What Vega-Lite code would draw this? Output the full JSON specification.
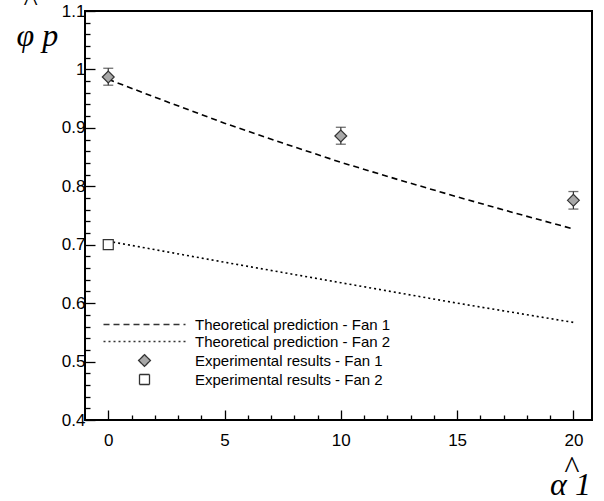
{
  "$schema": "https://vega.github.io/schema/vega-lite/v6.json",
  "width": 507,
  "height": 409,
  "autosize": "none",
  "padding": {"left": 85, "top": 11, "right": 12, "bottom": 81},
  "background": "white",
  "title": {
    "text": "^",
    "anchor": "start",
    "orient": "top",
    "frame": "group",
    "font": "Liberation Serif",
    "fontStyle": "italic",
    "fontWeight": "normal",
    "fontSize": 30,
    "color": "#000",
    "baseline": "top",
    "offset": -15,
    "dx": -62
  },
  "config": {
    "view": {"stroke": "#000", "strokeWidth": 2},
    "axis": {
      "domain": false,
      "grid": false,
      "tickColor": "#000",
      "tickWidth": 1.3,
      "labelFont": "Liberation Sans",
      "labelFontSize": 17,
      "labelColor": "#000",
      "titleFont": "Liberation Serif",
      "titleFontStyle": "italic",
      "titleFontWeight": "normal",
      "titleFontSize": 32,
      "titleColor": "#000",
      "titleLineHeight": 14
    },
    "legend": {
      "labelFont": "Liberation Sans",
      "labelFontSize": 15,
      "labelColor": "#000",
      "labelLimit": 0
    }
  },
  "datasets": {
    "theory": [
      {"series": "Theoretical prediction - Fan 1", "x": 0, "y": 0.983},
      {"series": "Theoretical prediction - Fan 1", "x": 2.5, "y": 0.945},
      {"series": "Theoretical prediction - Fan 1", "x": 5, "y": 0.908},
      {"series": "Theoretical prediction - Fan 1", "x": 7.5, "y": 0.874},
      {"series": "Theoretical prediction - Fan 1", "x": 10, "y": 0.841},
      {"series": "Theoretical prediction - Fan 1", "x": 12.5, "y": 0.811},
      {"series": "Theoretical prediction - Fan 1", "x": 15, "y": 0.782},
      {"series": "Theoretical prediction - Fan 1", "x": 17.5, "y": 0.754},
      {"series": "Theoretical prediction - Fan 1", "x": 20, "y": 0.727},
      {"series": "Theoretical prediction - Fan 2", "x": 0, "y": 0.706},
      {"series": "Theoretical prediction - Fan 2", "x": 5, "y": 0.670},
      {"series": "Theoretical prediction - Fan 2", "x": 10, "y": 0.635},
      {"series": "Theoretical prediction - Fan 2", "x": 15, "y": 0.600},
      {"series": "Theoretical prediction - Fan 2", "x": 20, "y": 0.567}
    ],
    "exp": [
      {"series": "Experimental results - Fan 1", "x": 0, "y": 0.987},
      {"series": "Experimental results - Fan 1", "x": 10, "y": 0.886},
      {"series": "Experimental results - Fan 1", "x": 20, "y": 0.776},
      {"series": "Experimental results - Fan 2", "x": 0, "y": 0.700}
    ],
    "errs": [
      {"x": 0, "y": 0.973, "y2": 1.002},
      {"x": 10, "y": 0.872, "y2": 0.901},
      {"x": 20, "y": 0.761, "y2": 0.791}
    ],
    "caps": [
      {"x": 0, "y": 0.973},
      {"x": 0, "y": 1.002},
      {"x": 10, "y": 0.872},
      {"x": 10, "y": 0.901},
      {"x": 20, "y": 0.761},
      {"x": 20, "y": 0.791}
    ]
  },
  "encoding": {
    "x": {
      "field": "x",
      "type": "quantitative",
      "scale": {"domain": [-1, 20.8], "nice": false, "zero": false},
      "axis": {
        "values": [0,1,2,3,4,5,6,7,8,9,10,11,12,13,14,15,16,17,18,19,20],
        "labelExpr": "datum.value % 5 === 0 ? datum.label : ''",
        "tickSize": {"condition": {"test": "datum.value % 5 === 0", "value": -10}, "value": -5},
        "labelPadding": 22,
        "title": ["^", "α\u00a01"],
        "titleAlign": "center",
        "titleBaseline": "top",
        "titleAngle": 0,
        "titleX": 485,
        "titleY": 32,
        "titleLineHeight": 17
      }
    },
    "y": {
      "field": "y",
      "type": "quantitative",
      "scale": {"domain": [0.4, 1.1], "nice": false, "zero": false},
      "axis": {
        "values": [0.4,0.42,0.44,0.46,0.48,0.5,0.52,0.54,0.56,0.58,0.6,0.62,0.64,0.66,0.68,0.7,0.72,0.74,0.76,0.78,0.8,0.82,0.84,0.86,0.88,0.9,0.92,0.94,0.96,0.98,1.0,1.02,1.04,1.06,1.08,1.1],
        "labelExpr": "abs(datum.value*10 - round(datum.value*10)) < 0.000001 ? ['', '', '', '', '0.4', '0.5', '0.6', '0.7', '0.8', '0.9', '1', '1.1'][round(datum.value*10)] : ''",
        "tickSize": {"condition": {"test": "abs(datum.value*10 - round(datum.value*10)) < 0.000001", "value": -10}, "value": -5},
        "labelPadding": 10,
        "title": "φ\u00a0p",
        "titleAlign": "left",
        "titleBaseline": "top",
        "titleAngle": 0,
        "titleX": -69,
        "titleY": 9
      }
    }
  },
  "layer": [
    {
      "data": {"name": "theory"},
      "mark": {"type": "line", "color": "#000", "strokeWidth": 1.6},
      "encoding": {
        "strokeDash": {
          "field": "series",
          "type": "nominal",
          "scale": {
            "domain": ["Theoretical prediction - Fan 1", "Theoretical prediction - Fan 2", "Experimental results - Fan 1", "Experimental results - Fan 2"],
            "range": [[6, 4], [2, 3], [1, 0], [1, 0]]
          },
          "legend": {
            "title": null,
            "orient": "none",
            "legendX": 10,
            "legendY": 306,
            "symbolOffset": 42,
            "labelOffset": 43,
            "rowPadding": 1,
            "padding": 0,
            "symbolStrokeColor": "#000",
            "symbolStrokeWidth": 1.3
          }
        }
      }
    },
    {
      "data": {"name": "errs"},
      "mark": {"type": "rule", "color": "#333", "strokeWidth": 1.2},
      "encoding": {
        "y2": {"field": "y2"}
      }
    },
    {
      "data": {"name": "caps"},
      "mark": {"type": "tick", "orient": "horizontal", "color": "#333", "size": 10, "thickness": 1.3},
      "encoding": {}
    },
    {
      "data": {"name": "exp"},
      "mark": {"type": "point", "filled": true, "stroke": "#333", "strokeWidth": 1.2, "opacity": 1},
      "encoding": {
        "shape": {
          "field": "series",
          "type": "nominal",
          "scale": {
            "domain": ["Theoretical prediction - Fan 1", "Theoretical prediction - Fan 2", "Experimental results - Fan 1", "Experimental results - Fan 2"],
            "range": ["M-8.2,0L8.2,0", "M-8.2,0L8.2,0", "diamond", "square"]
          }
        },
        "fill": {
          "field": "series",
          "type": "nominal",
          "scale": {
            "domain": ["Theoretical prediction - Fan 1", "Theoretical prediction - Fan 2", "Experimental results - Fan 1", "Experimental results - Fan 2"],
            "range": ["transparent", "transparent", "#a8a8a8", "#ffffff"]
          }
        },
        "size": {
          "field": "series",
          "type": "ordinal",
          "scale": {
            "type": "ordinal",
            "domain": ["Theoretical prediction - Fan 1", "Theoretical prediction - Fan 2", "Experimental results - Fan 1", "Experimental results - Fan 2"],
            "range": [100, 100, 140, 100]
          }
        }
      }
    }
  ]
}
